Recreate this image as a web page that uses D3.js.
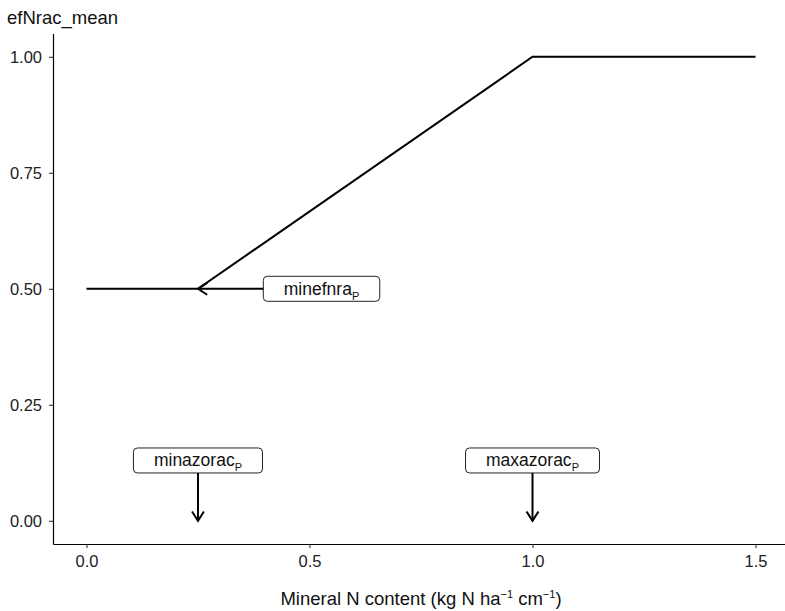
<!DOCTYPE html>
<html><head><meta charset="utf-8">
<script src="https://cdn.jsdelivr.net/npm/d3@7"></script>
<style>body{margin:0;background:#fff}svg{display:block}text{font-family:"Liberation Sans",Arial,Helvetica,sans-serif}</style>
</head><body>
<script>
const lineX = [0, 0.25, 1.0, 1.5];
const lineY = [0.5, 0.5, 1.0, 1.0];
const xTicks = [0, 0.5, 1.0, 1.5];
const xTickLabels = ["0.0", "0.5", "1.0", "1.5"];
const yTicks = [0, 0.25, 0.5, 0.75, 1.0];
const yTickLabels = ["0.00", "0.25", "0.50", "0.75", "1.00"];
const annLabels = ["minefnra", "minazorac", "maxazorac"];
const annLabelX = [0.527, 0.25, 1.0];
const annLabelY = [0.5, 0.13, 0.13];
const annTargetX = [0.25, 0.25, 1.0];
const annTargetY = [0.5, 0.0, 0.0];

const W = 785, H = 611;
const svg = d3.select("body").append("svg").attr("width", W).attr("height", H);
const x = d3.scaleLinear().domain([-0.075, 1.575]).range([53, 789]);
const y = d3.scaleLinear().domain([-0.05, 1.05]).range([544, 33.6]);

// axes
const xAxis = d3.axisBottom(x).tickValues(xTicks).tickFormat((d, i) => xTickLabels[i]).tickSize(4).tickSizeOuter(0).tickPadding(7);
const yAxis = d3.axisLeft(y).tickValues(yTicks).tickFormat((d, i) => yTickLabels[i]).tickSize(4).tickSizeOuter(0).tickPadding(7);
const gx = svg.append("g").attr("transform", `translate(0,${y(-0.05)})`).call(xAxis);
const gy = svg.append("g").attr("transform", `translate(${x(-0.075)},0)`).call(yAxis);
[gx, gy].forEach(g => {
  g.select(".domain").attr("stroke", "#000").attr("stroke-width", 1.2);
  g.selectAll(".tick line").attr("stroke", "#333").attr("stroke-width", 1.1);
  g.selectAll(".tick text").attr("fill", "#222").style("font-size", "16.5px");
});
gx.selectAll(".tick text").attr("dy", "0.71em");

// titles
svg.append("text").attr("x", 7).attr("y", 24).style("font-size", "18.5px").attr("fill", "#111").text("efNrac_mean");
svg.append("text").attr("x", 421).attr("y", 605).attr("text-anchor", "middle").style("font-size", "18.5px").attr("fill", "#111")
  .html('Mineral N content (kg N ha<tspan dy="-7" style="font-size:11px">\u22121</tspan><tspan dy="7"> cm</tspan><tspan dy="-7" style="font-size:11px">\u22121</tspan><tspan dy="7">)</tspan>');

// line
const pts = lineX.map((v, i) => [v, lineY[i]]);
svg.append("path").datum(pts)
  .attr("d", d3.line().x(d => x(d[0])).y(d => y(d[1])))
  .attr("fill", "none").attr("stroke", "#000").attr("stroke-width", 2);

// arrows + labels
const ag = svg.append("g");
annLabels.forEach((lab, i) => {
  const lx = x(annLabelX[i]), ly = y(annLabelY[i]);
  const tx = x(annTargetX[i]), ty = y(annTargetY[i]);
  const g = ag.append("g");
  const t = g.append("text").attr("x", lx).attr("y", ly + 6).attr("text-anchor", "middle").style("font-size", "17.5px").attr("fill", "#111");
  t.append("tspan").text(lab);
  t.append("tspan").attr("dy", 5).style("font-size", "11px").text("P");
  const bb = t.node().getBBox();
  const bw = bb.width + 41, bh = 25;
  const bx = lx - bw / 2, by = ly - bh / 2;
  g.insert("rect", "text").attr("x", bx).attr("y", by).attr("width", bw).attr("height", bh)
    .attr("rx", 4).attr("fill", "#fff").attr("stroke", "#222").attr("stroke-width", 1);
  let sx, sy;
  if (Math.abs(ty - ly) < 1) { sx = bx; sy = ly; } else { sx = lx; sy = by + bh; }
  const ang = Math.atan2(ty - sy, tx - sx);
  const hl = 11, ha = Math.PI / 5.5;
  ag.append("line").attr("x1", sx).attr("y1", sy).attr("x2", tx).attr("y2", ty)
    .attr("stroke", "#000").attr("stroke-width", 2);
  const p1 = [tx - hl * Math.cos(ang - ha), ty - hl * Math.sin(ang - ha)];
  const p2 = [tx - hl * Math.cos(ang + ha), ty - hl * Math.sin(ang + ha)];
  ag.append("path").attr("d", `M${p1[0]},${p1[1]}L${tx},${ty}L${p2[0]},${p2[1]}`)
    .attr("fill", "none").attr("stroke", "#000").attr("stroke-width", 2);
});
</script>
</body></html>
